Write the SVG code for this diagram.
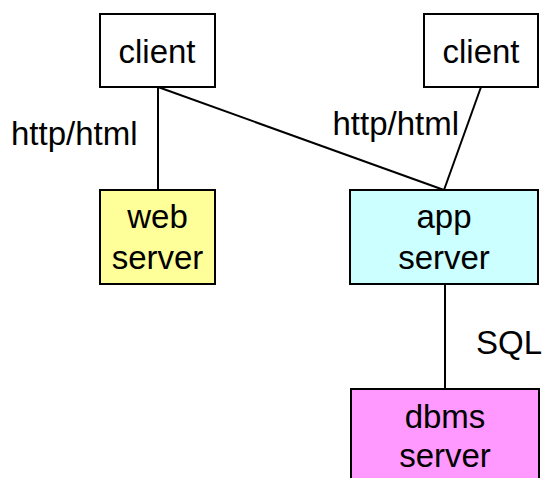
<svg xmlns="http://www.w3.org/2000/svg" width="545" height="478" viewBox="0 0 545 478">
  <style>
    .box { stroke: #000; stroke-width: 2; }
    .lbl { font-family: "Liberation Sans", Arial, sans-serif; font-size: 33px; fill: #000; }
    .mid { text-anchor: middle; }
    .end { text-anchor: end; }
    .link { stroke: #000; stroke-width: 2; fill: none; }
  </style>
  <rect width="545" height="478" fill="#fff"/>

  <g id="connectors">
    <line class="link" x1="158" y1="87" x2="158" y2="190"/>
    <line class="link" x1="158" y1="87" x2="444" y2="190"/>
    <line class="link" x1="481" y1="87" x2="444" y2="190"/>
    <line class="link" x1="445" y1="284" x2="445" y2="389"/>
    <text class="lbl" x="11" y="145">http/html</text>
    <text class="lbl end" x="459" y="135">http/html</text>
    <text class="lbl" x="476" y="354">SQL</text>
  </g>

  <g id="client1">
    <rect class="box" x="100" y="14" width="115" height="73" fill="#fff"/>
    <text class="lbl mid" x="157" y="63">client</text>
  </g>

  <g id="client2">
    <rect class="box" x="424" y="14" width="114" height="73" fill="#fff"/>
    <text class="lbl mid" x="481" y="63">client</text>
  </g>

  <g id="web-server">
    <rect class="box" x="100" y="190" width="115" height="94" fill="#ffff99"/>
    <text class="lbl mid" x="157.5" y="228">web</text>
    <text class="lbl mid" x="157.5" y="269">server</text>
  </g>

  <g id="app-server">
    <rect class="box" x="350" y="190" width="188" height="94" fill="#ccffff"/>
    <text class="lbl mid" x="444" y="228">app</text>
    <text class="lbl mid" x="444" y="269">server</text>
  </g>

  <g id="dbms-server">
    <rect class="box" x="351" y="389" width="188" height="100" fill="#ff99ff"/>
    <text class="lbl mid" x="445" y="428">dbms</text>
    <text class="lbl mid" x="445" y="467">server</text>
  </g>
</svg>
